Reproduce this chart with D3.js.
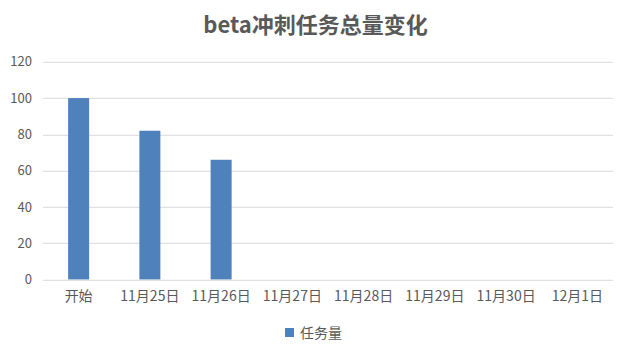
<!DOCTYPE html>
<html>
<head>
<meta charset="utf-8">
<script src="https://cdn.jsdelivr.net/npm/d3@7"></script>
<style>
  body { margin: 0; background: #fff; }
  svg text { font-family: "Noto Sans CJK SC", "Noto Sans", sans-serif; }
</style>
</head>
<body>
<script>
var categories = ['开始', '11月25日', '11月26日', '11月27日', '11月28日', '11月29日', '11月30日', '12月1日'];
var taskCounts = [100, 82, 66, null, null, null, null, null];
var yTicks = [0, 20, 40, 60, 80, 100, 120];
var seriesName = '任务量';
var chartTitle = 'beta冲刺任务总量变化';

var width = 631, height = 356,
    margins = {top: 61.8, right: 18, bottom: 76.5, left: 43};
var plotW = width - margins.left - margins.right,
    plotH = height - margins.top - margins.bottom;

var svg = d3.select('body')
  .append('svg')
  .attr('width', width)
  .attr('height', height);

svg.append('text')
  .attr('x', width / 2)
  .attr('y', 33)
  .attr('text-anchor', 'middle')
  .style('font-size', '22px')
  .style('font-weight', 'bold')
  .style('fill', '#595959')
  .text(chartTitle);

var plot = svg.append('g')
  .attr('transform', 'translate(' + margins.left + ',' + margins.top + ')');

var x = d3.scaleBand()
  .domain(categories)
  .range([0, plotW]);

var y = d3.scaleLinear()
  .domain([0, 120])
  .range([plotH, 0]);

// gridlines
plot.selectAll('.grid')
  .data(yTicks.filter(function(d) { return d > 0; }))
  .enter()
  .append('line')
  .attr('x1', 0)
  .attr('x2', plotW)
  .attr('y1', function(d) { return Math.round(y(d)) + 0.5; })
  .attr('y2', function(d) { return Math.round(y(d)) + 0.5; })
  .attr('stroke', '#d9d9d9')
  .attr('stroke-width', 1);

var barW = 21;
plot.selectAll('rect.bar')
  .data(taskCounts.map(function(v, i) { return {cat: categories[i], v: v}; })
    .filter(function(d) { return d.v != null; }))
  .enter()
  .append('rect')
  .attr('class', 'bar')
  .attr('x', function(d) { return x(d.cat) + x.bandwidth() / 2 - barW / 2; })
  .attr('y', function(d) { return y(d.v); })
  .attr('width', barW)
  .attr('height', function(d) { return plotH - y(d.v); })
  .attr('fill', '#4f81bd');

// baseline
plot.append('line')
  .attr('x1', 0)
  .attr('x2', plotW)
  .attr('y1', Math.round(plotH) + 0.5)
  .attr('y2', Math.round(plotH) + 0.5)
  .attr('stroke', '#d9d9d9');

var yAxis = d3.axisLeft(y)
  .tickValues(yTicks)
  .tickSize(0)
  .tickPadding(11);

var yg = plot.append('g').call(yAxis);
yg.select('.domain').remove();
yg.selectAll('text')
  .style('font-size', '13px')
  .style('fill', '#595959');

var xAxis = d3.axisBottom(x)
  .tickSize(0)
  .tickPadding(12);

var xg = plot.append('g')
  .attr('transform', 'translate(0,' + plotH + ')')
  .call(xAxis);
xg.select('.domain').remove();
xg.selectAll('text')
  .style('font-size', '14px')
  .style('fill', '#595959');

// legend
var legend = svg.append('g')
  .attr('transform', 'translate(285,328)');
legend.append('rect')
  .attr('x', 0)
  .attr('y', 0)
  .attr('width', 9)
  .attr('height', 9)
  .attr('fill', '#4f81bd');
legend.append('text')
  .attr('x', 15)
  .attr('y', 10)
  .style('font-size', '14px')
  .style('fill', '#595959')
  .text(seriesName);
</script>
</body>
</html>
